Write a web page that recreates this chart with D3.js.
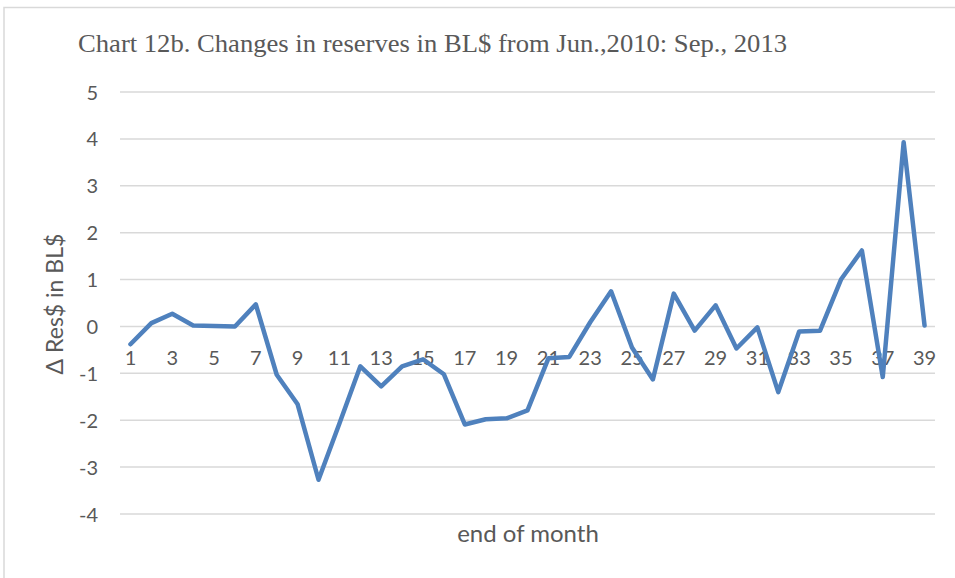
<!DOCTYPE html>
<html>
<head>
<meta charset="utf-8">
<script src="https://d3js.org/d3.v7.min.js"></script>
<style>
  body { margin: 0; background: #fff; }
  text { fill: #595959; }
</style>
</head>
<body>
<script>
  // months since Jun. 2010 (1..39)
  let months = d3.range(1, 40);
  let resChange = [
    -0.38, 0.07, 0.27, 0.02, 0.01, 0.0, 0.47, -1.03, -1.66, -3.27,
    -2.07, -0.85, -1.28, -0.85, -0.70, -1.02, -2.09, -1.98, -1.96, -1.79,
    -0.68, -0.65, 0.09, 0.75, -0.45, -1.13, 0.70, -0.09, 0.45, -0.47,
    -0.02, -1.40, -0.11, -0.09, 1.00, 1.62, -1.08, 3.93, 0.02
  ];
  let yTicks = [-4, -3, -2, -1, 0, 1, 2, 3, 4, 5];
  let xTickLabels = months.filter(m => m % 2 === 1);

  let w = 955, h = 578;
  let plotLeft = 120, plotRight = 935, plotTop = 92, plotBottom = 514;

  let svg = d3.select('body').append('svg')
      .attr('width', w)
      .attr('height', h);

  // chart area border
  svg.append('rect')
      .attr('x', 4).attr('y', 7.5)
      .attr('width', 960).attr('height', 600)
      .attr('fill', 'none')
      .attr('stroke', '#d9d9d9')
      .attr('stroke-width', 1.5);

  let x = d3.scaleBand()
      .domain(months)
      .range([plotLeft, plotRight]);
  let y = d3.scaleLinear()
      .domain([-4, 5])
      .range([plotBottom, plotTop]);
  let cx = d => x(d) + x.bandwidth() / 2;

  // gridlines
  svg.append('g')
    .selectAll('line')
    .data(yTicks)
    .join('line')
      .attr('x1', plotLeft).attr('x2', plotRight)
      .attr('y1', d => y(d)).attr('y2', d => y(d))
      .attr('stroke', '#d9d9d9')
      .attr('stroke-width', 1.5);

  // y tick labels (plain hyphen for negatives, like Excel)
  let yAxis = svg.append('g')
      .attr('transform', `translate(${plotLeft - 22},0)`)
      .call(d3.axisLeft(y).tickValues(yTicks).tickFormat(d => String(d))
        .tickSize(0).tickPadding(0));
  yAxis.select('.domain').remove();
  yAxis.selectAll('text')
      .attr('font-family', 'Lato, sans-serif')
      .attr('font-size', 20)
      .attr('fill', '#595959')
      .attr('dy', '0.35em');

  // x tick labels sit on the zero line
  let xAxis = svg.append('g')
      .attr('transform', `translate(0,${y(0)})`)
      .call(d3.axisBottom(x).tickValues(xTickLabels).tickSize(0).tickPadding(0));
  xAxis.select('.domain').remove();
  xAxis.selectAll('text')
      .attr('font-family', 'Lato, sans-serif')
      .attr('font-size', 20)
      .attr('fill', '#595959')
      .attr('dy', null)
      .attr('y', 39);

  // the series
  let line = d3.line()
      .x((d, i) => cx(months[i]))
      .y(d => y(d));

  svg.append('path')
      .datum(resChange)
      .attr('d', line)
      .attr('fill', 'none')
      .attr('stroke', '#4f81bd')
      .attr('stroke-width', 4.5)
      .attr('stroke-linejoin', 'round')
      .attr('stroke-linecap', 'round');

  // titles
  svg.append('text')
      .attr('x', 78).attr('y', 52)
      .attr('font-family', '"Liberation Serif", "Times New Roman", serif')
      .attr('font-size', 24.5)
      .attr('textLength', 709)
      .attr('lengthAdjust', 'spacingAndGlyphs')
      .text('Chart 12b. Changes in reserves in BL$ from Jun.,2010: Sep., 2013');

  svg.append('text')
      .attr('transform', `translate(63,304) rotate(-90)`)
      .attr('text-anchor', 'middle')
      .attr('font-family', 'Lato, sans-serif')
      .attr('font-size', 23)
      .text('Δ Res$ in BL$');

  svg.append('text')
      .attr('x', 528).attr('y', 542)
      .attr('text-anchor', 'middle')
      .attr('font-family', 'Lato, sans-serif')
      .attr('font-size', 24)
      .text('end of month');
</script>
</body>
</html>
